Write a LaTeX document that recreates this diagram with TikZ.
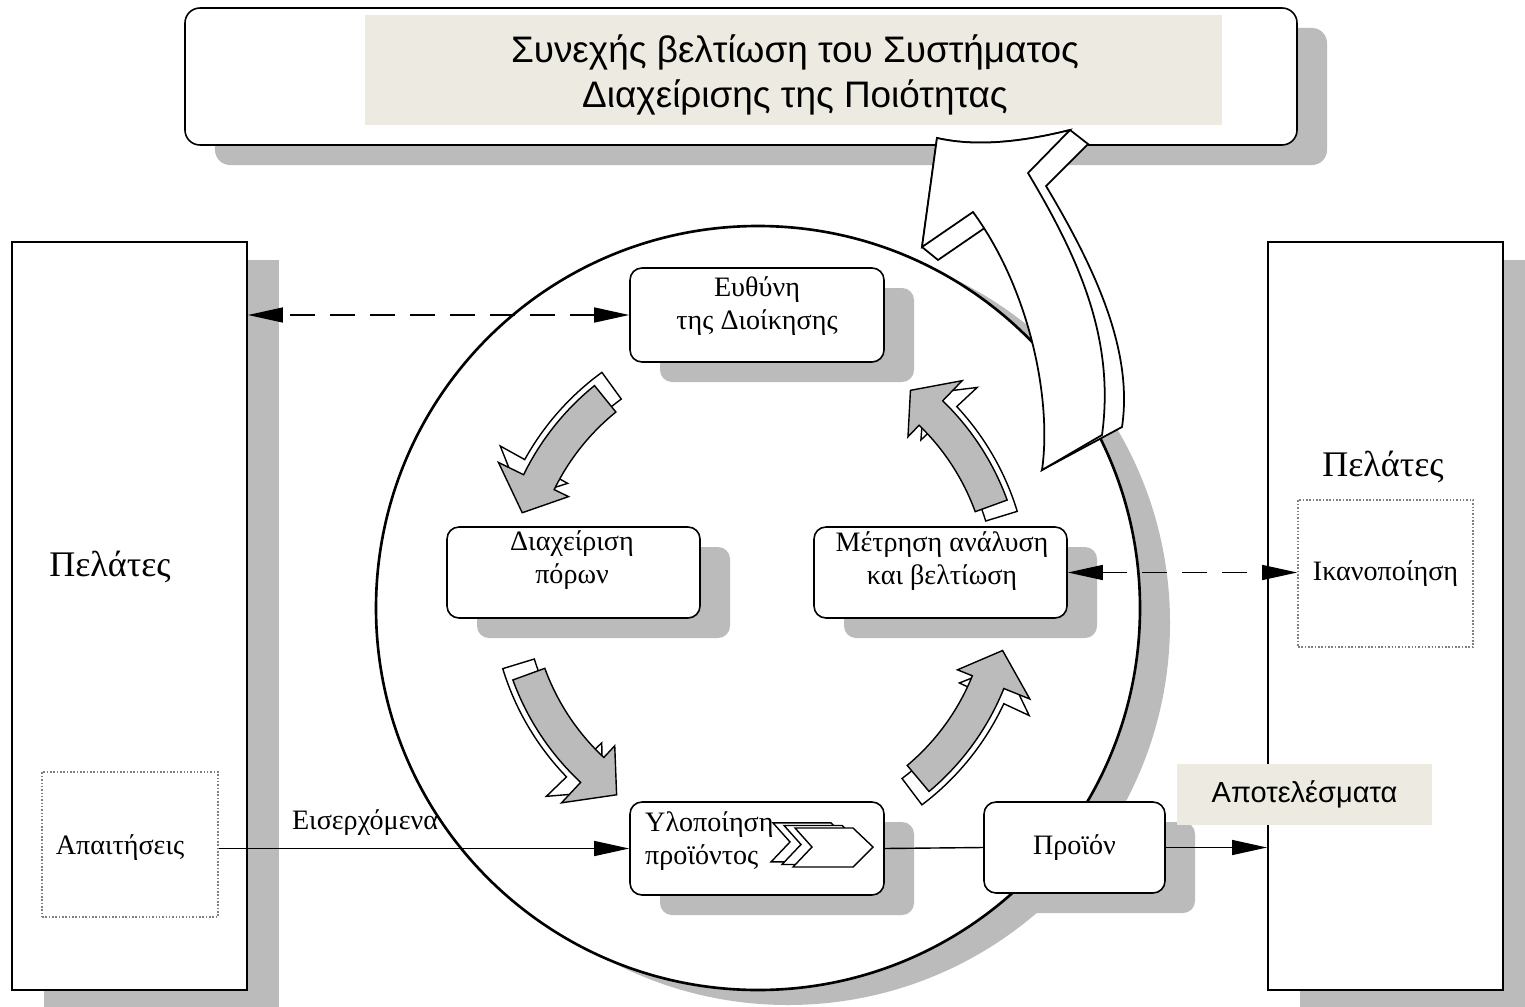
\documentclass[tikz,border=0pt]{standalone}
\usepackage{fontspec}
\setmainfont{Liberation Serif}
\newfontfamily\sansgr{Liberation Sans}
\usetikzlibrary{shadows,arrows.meta}
\definecolor{shade}{RGB}{187,187,187}
\definecolor{beige}{RGB}{236,234,225}
\tikzstyle{client}=[draw, line width=1.1pt, fill=white, drop shadow={shadow xshift=0.64cm, shadow yshift=-0.36cm, fill=shade, opacity=1}]
\tikzstyle{proc}=[draw, rounded corners=0.24cm, line width=0.9pt, fill=white, drop shadow={shadow xshift=0.6cm, shadow yshift=-0.4cm, fill=shade, opacity=1}]
\tikzstyle{dotbox}=[draw=gray, densely dotted, line width=0.9pt]
\tikzstyle{txt}=[align=center, font=\fontsize{16}{19}\selectfont]
\tikzstyle{big}=[font=\fontsize{20.5}{24}\selectfont]
\tikzstyle{tag}=[fill=beige, font=\sansgr\fontsize{16.5}{20}\selectfont]
\tikzstyle{flow}=[line width=0.8pt, >={Triangle[length=0.7cm,width=0.3cm]}]
\tikzstyle{feedback}=[flow, dash pattern=on 0.5cm off 0.3cm]
\tikzstyle{turn}=[draw, line width=0.8pt, fill=shade]
\tikzstyle{turnside}=[draw, line width=0.8pt, fill=white]
\tikzstyle{chevron}=[draw, line width=0.8pt, fill=white]
\newcommand{\cyclearrow}[3]{%
\draw[turnside] (#1-3:269) arc[start angle=#1-3, end angle=#2-3, radius=269] -- (#2-3:297) -- (#3-3:256) -- (#2-3:220) -- (#2-3:236) arc[start angle=#2-3, end angle=#1-3, radius=236] -- cycle;
\draw[turn] (#1:263) arc[start angle=#1, end angle=#2, radius=263] -- (#2:291) -- (#3:250) -- (#2:213) -- (#2:229) arc[start angle=#2, end angle=#1, radius=229] -- cycle;}

\begin{document}
\begin{tikzpicture}[x=0.2mm, y=0.2mm]
\useasboundingbox (0,0) rectangle (1525,-1006);
\draw (129.5,-616) node[client, minimum width=4.7cm, minimum height=14.96cm] (custin) {};
\draw (1385.5,-616) node[client, minimum width=4.7cm, minimum height=14.96cm] (custout) {};
\draw (110,-567) node[big] (custinname) {Πελάτες};
\draw (1383,-467) node[big] (custoutname) {Πελάτες};
\draw (130,-844.5) node[dotbox, minimum width=3.52cm, minimum height=2.9cm] (req) {};
\draw (120,-848) node[txt] (reqtxt) {Απαιτήσεις};
\draw (1385.5,-573.5) node[dotbox, txt, minimum width=3.5cm, minimum height=2.94cm] (sat) {Ικανοποίηση};

\draw (741,-76.5) node[proc, rounded corners=0.3cm, minimum width=22.24cm, minimum height=2.74cm] (goal) {};
\draw (793.5,-70) node[fill=beige, minimum width=17.14cm, minimum height=2.2cm] (goalbg) {};
\draw (795,-75) node[align=center, font=\sansgr\fontsize{21}{25.6}\selectfont] (goaltxt) {Συνεχής βελτίωση του Συστήματος\\Διαχείρισης της Ποιότητας};

\draw[line width=1.5pt, fill=white, drop shadow={shadow xshift=0.6cm, shadow yshift=-0.3cm, fill=shade, opacity=1}] (758,-608) circle[radius=382];

\draw (757,-315) node[proc, minimum width=5.08cm, minimum height=1.88cm] (mgmt) {};
\draw (757,-306) node[txt] (mgmttxt) {Ευθύνη\\της Διοίκησης};
\draw (573.5,-572.5) node[proc, minimum width=5.06cm, minimum height=1.82cm] (res) {};
\draw (572,-560) node[txt] (restxt) {Διαχείριση\\πόρων};
\draw (940.5,-572.5) node[proc, minimum width=5.06cm, minimum height=1.82cm] (meas) {};
\draw (942,-561) node[txt] (meastxt) {Μέτρηση ανάλυση\\και βελτίωση};
\draw (757,-848.5) node[proc, minimum width=5.08cm, minimum height=1.86cm] (real) {};
\draw (639,-841) node[txt, align=left, anchor=west] (realtxt) {Υλοποίηση\\προϊόντος};
\foreach \s in {22,11,0}
  \draw[chevron, shift={(-\s,0.23*\s)}] (795,-828) -- (853,-828) -- (873,-847) -- (853,-867) -- (793,-867) -- (812,-847) -- cycle;
\draw (1074.5,-847.5) node[proc, txt, minimum width=3.62cm, minimum height=1.82cm] (prod) {Προϊόν};

\begin{scope}[shift={(760,-590)}]
\cyclearrow{129}{154}{162}
\cyclearrow{200}{227}{235}
\cyclearrow{310}{338}{346}
\cyclearrow{20}{46}{53}
\end{scope}

\draw[turnside, line width=1pt] (1042,-470) .. controls (1068,-413) and (1046,-303) .. (989,-225) -- (938,-260) -- (922,-247) -- (937,-138) .. controls (980,-148) and (1030,-140) .. (1070,-130) -- (1088,-144) -- (1046,-186) .. controls (1098,-273) and (1133,-353) .. (1122,-427) -- cycle;
\draw[turnside, line width=1pt] (1042,-470) .. controls (1052,-400) and (1030,-290) .. (973,-212) -- (922,-247) -- (937,-138) .. controls (980,-148) and (1030,-140) .. (1070,-130) -- (1028,-173) .. controls (1080,-260) and (1115,-340) .. (1102,-435) -- cycle;

\draw[feedback, <->] (mgmt.west) -- (mgmt.west -| custin.east);
\draw[feedback, <->] (meas.east) -- (meas.east -| sat.west);
\draw[flow, ->] (req.east |- real.west) -- (real.west);
\draw[flow] (real.east) -- (prod.west);
\draw[flow, ->] (prod.east) -- (prod.east -| custout.west);
\draw (365,-823) node[txt] (inflow) {Εισερχόμενα};
\draw (1304.5,-794.5) node[tag, minimum width=5.1cm, minimum height=1.22cm] (results) {Αποτελέσματα};
\end{tikzpicture}
\end{document}
